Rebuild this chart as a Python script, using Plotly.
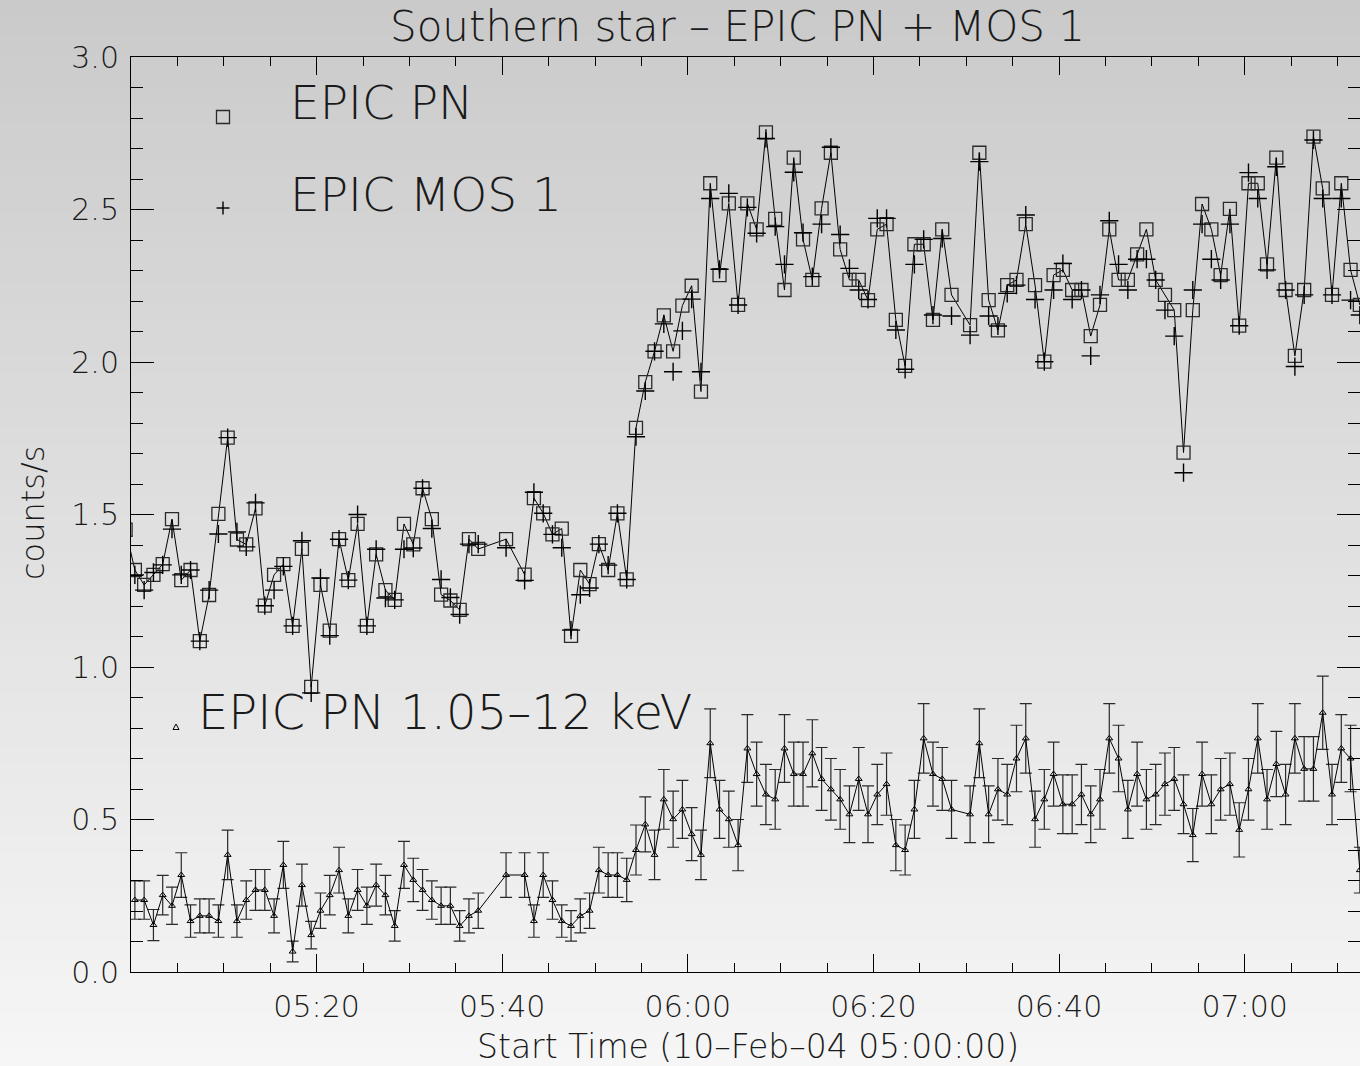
import plotly.graph_objects as go
import pandas as pd

# ---------------- data ----------------
# 1-minute bins, numbered from 05:00 (bin centre ~25 s after the minute)
bins = [-1] + list(range(0, 38)) + [40] + list(range(42, 89)) + list(range(90, 133))

pn = [1.45,
      1.318, 1.269, 1.302, 1.337, 1.485, 1.285, 1.318, 1.085, 1.236, 1.502,
      1.752, 1.418, 1.402, 1.520, 1.201, 1.302, 1.337, 1.135, 1.387, 0.935,
      1.269, 1.119, 1.419, 1.285, 1.469, 1.135, 1.369, 1.252, 1.220, 1.469,
      1.402, 1.586, 1.485, 1.237, 1.218, 1.187, 1.419, 1.387,
      1.419,
      1.303, 1.554, 1.504, 1.435, 1.454, 1.102, 1.318, 1.272, 1.403, 1.318,
      1.504, 1.287, 1.784, 1.934, 2.035, 2.153, 2.035, 2.185, 2.250, 1.903,
      2.586, 2.285, 2.520, 2.187, 2.520, 2.435, 2.753, 2.469, 2.236, 2.670,
      2.402, 2.269, 2.504, 2.686, 2.369, 2.269, 2.269, 2.203, 2.435, 2.452,
      2.138, 1.987, 2.386, 2.386, 2.138, 2.435, 2.220,
      2.121, 2.686, 2.203, 2.104, 2.252, 2.269, 2.452, 2.252, 2.001, 2.285,
      2.302, 2.236, 2.236, 2.085, 2.187, 2.435, 2.269, 2.269, 2.353, 2.435,
      2.269, 2.220, 2.170, 1.703, 2.170, 2.518, 2.435, 2.285, 2.502, 2.119,
      2.586, 2.586, 2.320, 2.670, 2.236, 2.020, 2.236, 2.739, 2.569, 2.220,
      2.586, 2.302, 2.187]

mos = [None,
       1.302, 1.252, 1.310, 1.335, 1.452, 1.302, 1.318, 1.085, 1.252, 1.436,
       1.752, 1.443, 1.394, 1.538, 1.201, 1.252, 1.330, 1.135, 1.414, 0.915,
       1.292, 1.103, 1.419, 1.285, 1.500, 1.135, 1.386, 1.226, 1.220, 1.386,
       1.390, 1.586, 1.454, 1.287, 1.228, 1.172, 1.403, 1.403,
       1.391,
       1.284, 1.573, 1.504, 1.435, 1.391, 1.121, 1.237, 1.259, 1.403, 1.334,
       1.504, 1.287, 1.755, 1.905, 2.035, 2.125, 1.968, 2.102, 2.206, 1.968,
       2.536, 2.304, 2.553, 2.187, 2.507, 2.422, 2.733, 2.444, 2.320, 2.622,
       2.424, 2.280, 2.452, 2.704, 2.418, 2.307, 2.236, 2.205, 2.471, 2.471,
       2.105, 1.976, 2.320, 2.402, 2.154, 2.405, 2.151,
       2.088, 2.657, 2.151, 2.118, 2.225, 2.252, 2.482, 2.205, 2.001, 2.236,
       2.323, 2.205, 2.236, 2.020, 2.220, 2.463, 2.320, 2.236, 2.337, 2.337,
       2.269, 2.170, 2.085, 1.637, 2.236, 2.452, 2.337, 2.269, 2.452, 2.119,
       2.621, 2.536, 2.302, 2.640, 2.236, 1.985, 2.220, 2.728, 2.536, 2.220,
       2.536, 2.203, 2.154]

hard = [None,
        0.236, 0.236, 0.154, 0.252, 0.217, 0.318, 0.167, 0.184, 0.184, 0.167,
        0.384, 0.167, 0.236, 0.269, 0.269, 0.184, 0.351, 0.067, 0.285, 0.121,
        0.201, 0.252, 0.334, 0.184, 0.269, 0.217, 0.285, 0.252, 0.151, 0.351,
        0.302, 0.269, 0.236, 0.217, 0.217, 0.151, 0.184, 0.201,
        0.318,
        0.318, 0.167, 0.318, 0.236, 0.167, 0.151, 0.184, 0.201, 0.334, 0.318,
        0.318, 0.302, 0.400, 0.484, 0.384, 0.566, 0.501, 0.533, 0.452, 0.384,
        0.750, 0.533, 0.501, 0.416, 0.733, 0.649, 0.582, 0.566, 0.733, 0.649,
        0.649, 0.717, 0.633, 0.599, 0.566, 0.517, 0.633, 0.517, 0.582, 0.616,
        0.416, 0.400, 0.533, 0.766, 0.649, 0.633, 0.533,
        0.517, 0.750, 0.517, 0.599, 0.582, 0.700, 0.766, 0.501, 0.566, 0.649,
        0.550, 0.550, 0.582, 0.517, 0.566, 0.766, 0.700, 0.533, 0.649, 0.566,
        0.582, 0.616, 0.633, 0.550, 0.449, 0.649, 0.550, 0.599, 0.616, 0.466,
        0.599, 0.766, 0.566, 0.682, 0.582, 0.766, 0.666, 0.666, 0.850, 0.582,
        0.733, 0.700, 0.334]

hard_err = [None,
            0.063, 0.063, 0.051, 0.065, 0.061, 0.073, 0.053, 0.056, 0.056, 0.053,
            0.081, 0.053, 0.063, 0.067, 0.067, 0.056, 0.077, 0.034, 0.069, 0.045,
            0.058, 0.065, 0.075, 0.056, 0.067, 0.061, 0.069, 0.065, 0.050, 0.077,
            0.071, 0.067, 0.063, 0.061, 0.061, 0.050, 0.056, 0.058,
            0.073,
            0.073, 0.053, 0.073, 0.063, 0.053, 0.050, 0.056, 0.058, 0.075, 0.073,
            0.073, 0.071, 0.082, 0.090, 0.081, 0.098, 0.092, 0.095, 0.087, 0.081,
            0.113, 0.095, 0.092, 0.084, 0.111, 0.105, 0.099, 0.098, 0.111, 0.105,
            0.105, 0.110, 0.103, 0.101, 0.098, 0.093, 0.103, 0.093, 0.099, 0.102,
            0.084, 0.082, 0.095, 0.114, 0.105, 0.103, 0.095,
            0.093, 0.113, 0.093, 0.101, 0.099, 0.109, 0.114, 0.092, 0.098, 0.105,
            0.096, 0.096, 0.099, 0.093, 0.098, 0.114, 0.109, 0.095, 0.105, 0.098,
            0.099, 0.102, 0.103, 0.096, 0.087, 0.105, 0.096, 0.101, 0.102, 0.089,
            0.101, 0.114, 0.098, 0.107, 0.099, 0.114, 0.106, 0.106, 0.120, 0.099,
            0.111, 0.109, 0.075]

xtick_labels = ["05:20", "05:40", "06:00", "06:20", "06:40", "07:00"]

# ---------------- layout geometry ----------------
W, H = 1360, 1066
ML, MR, MT, MB = 131, 0, 57, 94
PW, PH = W - ML - MR, H - MT - MB

def px(x):
    return (x - ML) / PW

def py(y):
    return (H - MB - y) / PH

day = "2004-02-10 "
t_start = pd.Timestamp(day + "05:00:25")
times = t_start + pd.to_timedelta(bins, unit="min")
tickvals = [pd.Timestamp(day + s) for s in xtick_labels]

FONT = "DejaVu Sans"
INK = "#1a1a1a"

fig = go.Figure()
fig.add_trace(go.Scatter(
    x=times, y=pn, mode="lines+markers", name="EPIC PN",
    line=dict(color="black", width=1),
    marker=dict(symbol="square-open", size=13, color="#2a2a2a", line=dict(width=1.3)),
    connectgaps=True, showlegend=False))
fig.add_trace(go.Scatter(
    x=times, y=mos, mode="markers", name="EPIC MOS 1",
    marker=dict(symbol="cross-thin-open", size=13, color="black",
                line=dict(width=1.4, color="black")),
    showlegend=False))
fig.add_trace(go.Scatter(
    x=times, y=hard, mode="lines+markers", name="EPIC PN 1.05-12 keV",
    line=dict(color="black", width=1),
    marker=dict(symbol="triangle-up-open", size=6, color="black", line=dict(width=1)),
    error_y=dict(type="data", array=hard_err, width=6, thickness=1.2, color="#2a2a2a"),
    connectgaps=True, showlegend=False))

# ---------------- background gradient ----------------
shapes = []
n = 60
top_c, bot_c = 202, 246
for i in range(n):
    y0 = i * H / n
    y1 = (i + 1) * H / n
    c = round(top_c + (bot_c - top_c) * (i + 0.5) / n)
    shapes.append(dict(type="rect", xref="paper", yref="paper",
                       x0=px(0), x1=px(W), y0=py(y1 + 1), y1=py(y0),
                       fillcolor=f"rgb({c},{c},{c})", line=dict(width=0),
                       layer="below"))

# legend symbols
shapes.append(dict(type="rect", xref="paper", yref="paper",
                   xsizemode="pixel", ysizemode="pixel",
                   xanchor=px(223), yanchor=py(117),
                   x0=-6.5, x1=6.5, y0=-6.5, y1=6.5,
                   line=dict(color="#2a2a2a", width=1.3)))
for (dx0, dy0, dx1, dy1) in [(-6.5, 0, 6.5, 0), (0, -6.5, 0, 6.5)]:
    shapes.append(dict(type="line", xref="paper", yref="paper",
                       xsizemode="pixel", ysizemode="pixel",
                       xanchor=px(223), yanchor=py(208),
                       x0=dx0, x1=dx1, y0=dy0, y1=dy1,
                       line=dict(color="black", width=1.4)))
shapes.append(dict(type="path", xref="paper", yref="paper",
                   xsizemode="pixel", ysizemode="pixel",
                   xanchor=px(176), yanchor=py(727),
                   path="M -3 -2.5 L 3 -2.5 L 0 3 Z",
                   line=dict(color="black", width=1)))

def ann(text, x, y, size, xanchor="left", angle=0):
    return dict(text=text, xref="paper", yref="paper", x=px(x), y=py(y),
                xanchor=xanchor, yanchor="middle", showarrow=False,
                textangle=angle,
                font=dict(family=FONT, size=size, color=INK, weight=200))

annotations = [
    ann("Southern star \u2013 EPIC PN + MOS 1", 737, 26, 42, "center"),
    ann("EPIC PN", 288, 102, 47),
    ann("EPIC MOS 1", 288, 194, 47),
    ann("EPIC PN 1.05\u201312 keV", 196, 712, 48),
    ann("Start Time (10\u2013Feb\u201304 05:00:00)", 748, 1046, 33, "center"),
    ann("counts/s", 33, 513, 32, "center", -90),
]

axis_common = dict(
    ticks="inside", tickwidth=1, tickcolor="black",
    showline=True, linecolor="black", linewidth=1, mirror="ticks",
    showgrid=False, zeroline=False,
    tickfont=dict(family=FONT, size=30, color=INK, weight=200),
)

fig.update_layout(
    width=W, height=H,
    margin=dict(l=ML, r=MR, t=MT, b=MB, pad=0),
    paper_bgcolor="rgb(224,224,224)",
    plot_bgcolor="rgba(0,0,0,0)",
    showlegend=False,
    shapes=shapes,
    annotations=annotations,
    xaxis=dict(
        type="date",
        range=[day + "05:00:00", day + "07:12:26"],
        tickmode="array", tickvals=tickvals, ticktext=xtick_labels,
        ticklen=18, ticklabelstandoff=8,
        minor=dict(ticks="inside", ticklen=9, tickwidth=1, tickcolor="black",
                   dtick=300000, tick0=day + "05:00:00", showgrid=False),
        **axis_common),
    yaxis=dict(
        range=[0, 3], tickmode="linear", tick0=0, dtick=0.5, tickformat=".1f",
        ticklen=23, ticklabelstandoff=5,
        minor=dict(ticks="inside", ticklen=12, tickwidth=1, tickcolor="black",
                   dtick=0.1, tick0=0, showgrid=False),
        **axis_common),
)

fig.write_html("out.html")
